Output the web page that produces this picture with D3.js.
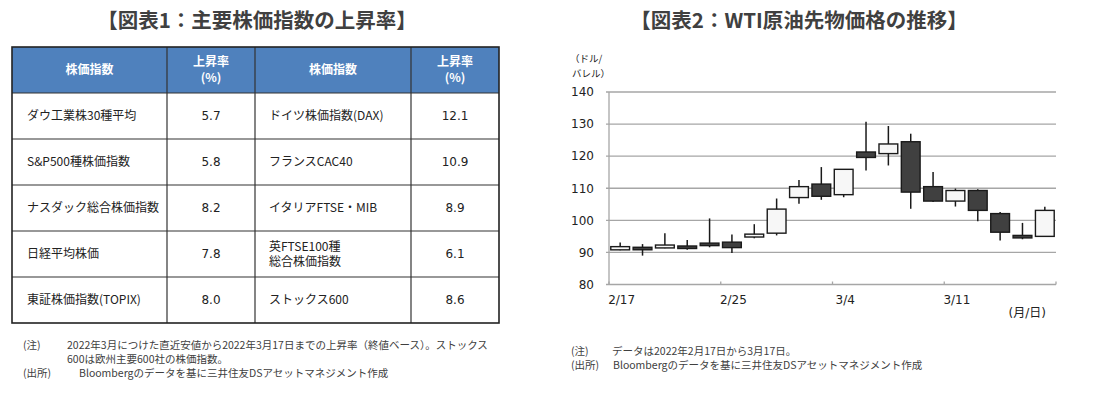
<!DOCTYPE html>
<html>
<head>
<meta charset="utf-8">
<script src="https://cdn.jsdelivr.net/npm/d3@7"></script>
<style>
  body { margin: 0; background: #fff; }
  svg { display: block; }
  text { font-family: "DejaVu Sans", "Noto Sans CJK JP", sans-serif; }
  .jp { font-family: "Noto Sans CJK JP", sans-serif; }
</style>
</head>
<body>
<script>
// table data (figure 1)
const leftNames = ['ダウ工業株30種平均', 'S&P500種株価指数', 'ナスダック総合株価指数', '日経平均株価', '東証株価指数(TOPIX)']
const leftRates = ['5.7', '5.8', '8.2', '7.8', '8.0']
const rightNames = [['ドイツ株価指数(DAX)'], ['フランスCAC40'], ['イタリアFTSE・MIB'], ['英FTSE100種', '総合株価指数'], ['ストックス600']]
const rightRates = ['12.1', '10.9', '8.9', '6.1', '8.6']

// candle data (figure 2)
const dates = ['2/17', '2/18', '2/22', '2/23', '2/24', '2/25', '2/28', '3/1', '3/2', '3/3',
  '3/4', '3/7', '3/8', '3/9', '3/10', '3/11', '3/14', '3/15', '3/16', '3/17']
const opens = [90.8, 91.6, 91.4, 92.0, 92.9, 93.2, 94.8, 96.0, 107.1, 111.3,
  108.0, 121.3, 120.8, 124.5, 110.5, 106.0, 109.3, 102.1, 95.3, 95.0]
const highs = [93.1, 92.6, 96.0, 93.9, 100.6, 95.6, 98.8, 106.8, 112.6, 116.6,
  115.9, 130.7, 129.4, 127.0, 115.1, 109.9, 109.7, 102.6, 99.2, 104.2]
const lows = [90.7, 89.0, 91.3, 90.8, 91.6, 89.8, 94.4, 95.3, 105.2, 106.4,
  107.2, 115.5, 117.1, 103.6, 105.7, 104.3, 99.7, 93.7, 94.1, 94.8]
const closes = [91.8, 91.0, 92.3, 91.5, 92.3, 91.5, 95.7, 103.5, 110.5, 107.5,
  115.9, 119.6, 123.8, 108.8, 106.0, 109.3, 103.1, 96.3, 94.8, 103.1]
const yTicks = [80, 90, 100, 110, 120, 130, 140]
const xLabelIdx = [0, 5, 10, 15]

const svg = d3.select('body').append('svg')
  .attr('width', 1099)
  .attr('height', 397)

svg.append('rect').attr('width', 1099).attr('height', 397).attr('fill', '#fff')

const textColor = '#404040'

// ---- titles
svg.append('text').attr('class', 'jp')
  .attr('x', 257).attr('y', 28)
  .attr('text-anchor', 'middle')
  .attr('font-size', 20.5).attr('font-weight', 'bold').attr('fill', textColor)
  .text('【図表1：主要株価指数の上昇率】')

svg.append('text').attr('class', 'jp')
  .attr('x', 799).attr('y', 28)
  .attr('text-anchor', 'middle')
  .attr('font-size', 20.5).attr('font-weight', 'bold').attr('fill', textColor)
  .text('【図表2：WTI原油先物価格の推移】')

// ---- table
const colX = [12, 167, 255, 411, 499]
const headTop = 47
const rowH = 46
const table = svg.append('g')

table.append('rect')
  .attr('x', colX[0]).attr('y', headTop)
  .attr('width', colX[4] - colX[0]).attr('height', rowH)
  .attr('fill', '#4f81bd')

const heads = [['株価指数'], ['上昇率', '(%)'], ['株価指数'], ['上昇率', '(%)']]
heads.forEach((lines, i) => {
  const cx = (colX[i] + colX[i + 1]) / 2
  const cy = headTop + rowH / 2
  lines.forEach((t, j) => {
    table.append('text').attr('class', 'jp')
      .attr('x', cx)
      .attr('y', cy + (j - (lines.length - 1) / 2) * 16)
      .attr('dy', '0.36em')
      .attr('text-anchor', 'middle')
      .attr('font-size', 12).attr('font-weight', 'bold').attr('fill', '#fff')
      .text(t)
  })
})

leftNames.forEach((name, i) => {
  const cy = headTop + rowH * (i + 1) + rowH / 2
  table.append('text').attr('class', 'jp')
    .attr('x', colX[0] + 15).attr('y', cy).attr('dy', '0.36em')
    .attr('font-size', 12).attr('fill', '#222')
    .text(name)
  table.append('text')
    .attr('x', (colX[1] + colX[2]) / 2).attr('y', cy).attr('dy', '0.36em')
    .attr('text-anchor', 'middle')
    .attr('font-size', 12).attr('fill', '#222')
    .text(leftRates[i])
  rightNames[i].forEach((t, j) => {
    table.append('text').attr('class', 'jp')
      .attr('x', colX[2] + 14)
      .attr('y', cy + (j - (rightNames[i].length - 1) / 2) * 15.5)
      .attr('dy', '0.36em')
      .attr('font-size', 12).attr('fill', '#222')
      .text(t)
  })
  table.append('text')
    .attr('x', (colX[3] + colX[4]) / 2).attr('y', cy).attr('dy', '0.36em')
    .attr('text-anchor', 'middle')
    .attr('font-size', 12).attr('fill', '#222')
    .text(rightRates[i])
})

// grid lines of the table
const tableBottom = headTop + rowH * 6
for (let i = 1; i < 6; i++) {
  table.append('line')
    .attr('x1', colX[0]).attr('x2', colX[4])
    .attr('y1', headTop + rowH * i).attr('y2', headTop + rowH * i)
    .attr('stroke', '#333').attr('stroke-width', 1.2)
}
colX.slice(1, 4).forEach(x => {
  table.append('line')
    .attr('x1', x).attr('x2', x)
    .attr('y1', headTop).attr('y2', tableBottom)
    .attr('stroke', '#333').attr('stroke-width', 1.2)
})
table.append('rect')
  .attr('x', colX[0]).attr('y', headTop)
  .attr('width', colX[4] - colX[0]).attr('height', tableBottom - headTop)
  .attr('fill', 'none').attr('stroke', '#222').attr('stroke-width', 1.6)

// ---- notes
function note (x, y, t) {
  svg.append('text').attr('class', 'jp')
    .attr('x', x).attr('y', y).attr('dy', '0.36em')
    .attr('font-size', 10.5).attr('fill', textColor)
    .text(t)
}
note(23, 345, '(注)')
note(67, 345, '2022年3月につけた直近安値から2022年3月17日までの上昇率（終値ベース）。ストックス')
note(67, 359, '600は欧州主要600社の株価指数。')
note(23, 373, '(出所)')
note(79, 373, 'Bloombergのデータを基に三井住友DSアセットマネジメント作成')

note(571, 351, '(注)')
note(612, 351, 'データは2022年2月17日から3月17日。')
note(571, 365, '(出所)')
note(613, 365, 'Bloombergのデータを基に三井住友DSアセットマネジメント作成')

// ---- candle chart
const plotLeft = 609
const plotRight = 1056
const x = d3.scaleBand().domain(dates).range([plotLeft, plotRight]).padding(0)
const y = d3.scaleLinear().domain([80, 140]).range([284.5, 92])
const chart = svg.append('g')
const gridColor = '#a6a6a6'

chart.selectAll('.grid')
  .data(yTicks.filter(v => v > 80))
  .enter().append('line')
  .attr('x1', plotLeft - 3).attr('x2', plotRight)
  .attr('y1', d => y(d)).attr('y2', d => y(d))
  .attr('stroke', gridColor).attr('stroke-width', 1.3)

chart.selectAll('.ylab')
  .data(yTicks)
  .enter().append('text')
  .attr('x', 594).attr('y', d => y(d)).attr('dy', '0.36em')
  .attr('text-anchor', 'end')
  .attr('font-size', 12).attr('fill', '#222')
  .text(d => d)

// axes
chart.append('line')
  .attr('x1', plotLeft).attr('x2', plotLeft)
  .attr('y1', y(140)).attr('y2', y(80))
  .attr('stroke', gridColor).attr('stroke-width', 1.3)
chart.append('line')
  .attr('x1', plotLeft - 3).attr('x2', plotRight)
  .attr('y1', y(80)).attr('y2', y(80))
  .attr('stroke', gridColor).attr('stroke-width', 1.3)

const tickXs = xLabelIdx.map(i => x(dates[i])).concat([plotRight])
chart.selectAll('.xtick')
  .data(tickXs)
  .enter().append('line')
  .attr('x1', d => d).attr('x2', d => d)
  .attr('y1', y(80)).attr('y2', y(80) - 3)
  .attr('stroke', gridColor).attr('stroke-width', 1.3)

chart.selectAll('.xlab')
  .data(xLabelIdx)
  .enter().append('text')
  .attr('x', i => x(dates[i]) + x.bandwidth() / 2 + 1.5)
  .attr('y', 300).attr('dy', '0.36em')
  .attr('text-anchor', 'middle')
  .attr('font-size', 12).attr('fill', '#222')
  .text(i => dates[i])

chart.append('text').attr('class', 'jp')
  .attr('x', 570).attr('y', 59).attr('dy', '0.36em')
  .attr('font-size', 9.5).attr('fill', '#222')
  .text('（ドル/')
chart.append('text').attr('class', 'jp')
  .attr('x', 572).attr('y', 74).attr('dy', '0.36em')
  .attr('font-size', 9.5).attr('fill', '#222')
  .text('バレル）')
chart.append('text')
  .attr('x', 1046).attr('y', 313).attr('dy', '0.36em')
  .attr('text-anchor', 'end')
  .attr('font-size', 12).attr('fill', '#222')
  .text('(月/日)')

// candles
const candles = d3.range(dates.length).map(i => ({
  date: dates[i], open: opens[i], high: highs[i], low: lows[i], close: closes[i]
}))
const bodyW = x.bandwidth() * 0.84

const candle = chart.selectAll('.candle')
  .data(candles)
  .enter().append('g')
  .attr('class', 'candle')

candle.append('line')
  .attr('x1', d => x(d.date) + x.bandwidth() / 2)
  .attr('x2', d => x(d.date) + x.bandwidth() / 2)
  .attr('y1', d => y(d.high)).attr('y2', d => y(d.low))
  .attr('stroke', '#1a1a1a').attr('stroke-width', 1.5)

candle.append('rect')
  .attr('x', d => x(d.date) + (x.bandwidth() - bodyW) / 2)
  .attr('width', bodyW)
  .attr('y', d => y(Math.max(d.open, d.close)))
  .attr('height', d => Math.max(2.5, Math.abs(y(d.open) - y(d.close))))
  .attr('fill', d => d.close >= d.open ? '#f7f7f7' : '#404040')
  .attr('stroke', '#1a1a1a').attr('stroke-width', 1.4)
</script>
</body>
</html>
